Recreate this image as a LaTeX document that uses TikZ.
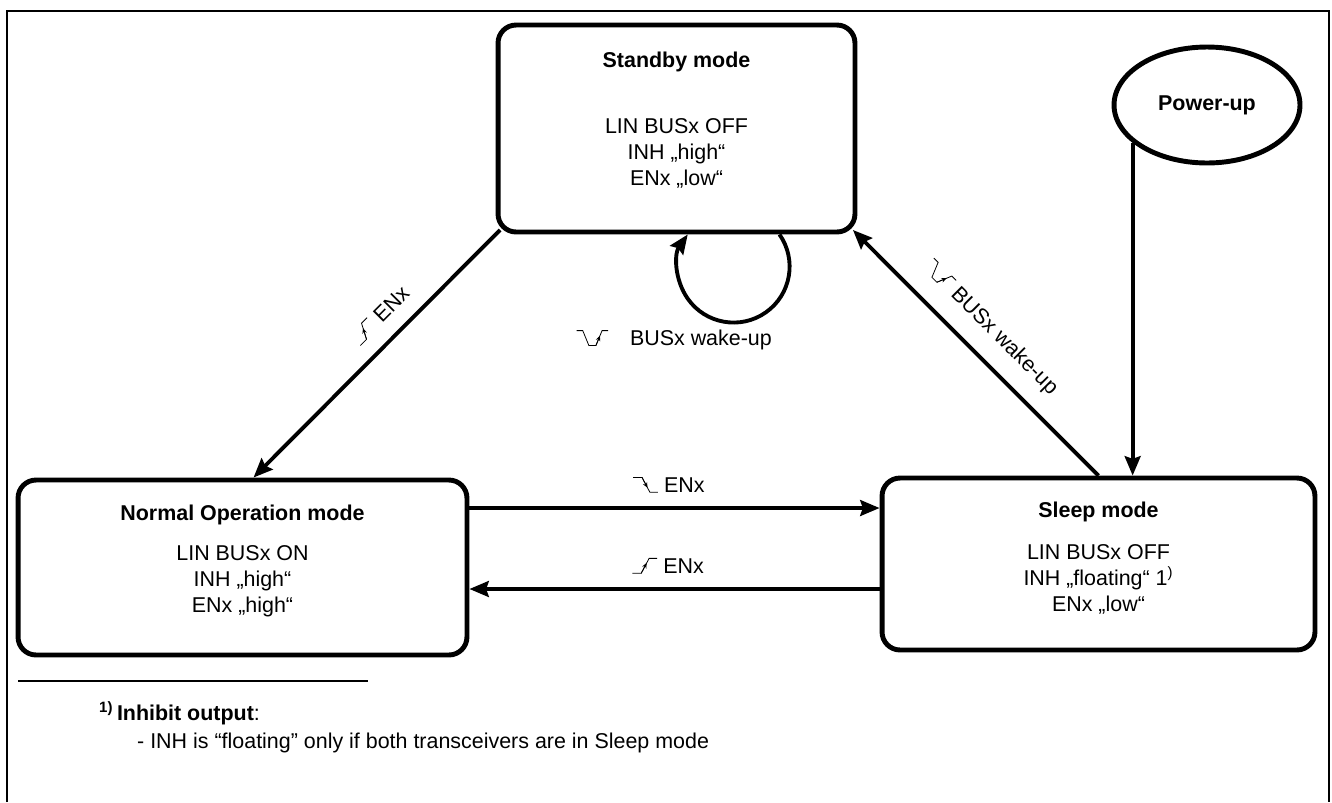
\documentclass[tikz,border=0pt]{standalone}
\usepackage{fontspec}
\setmainfont{Liberation Sans}
\usetikzlibrary{positioning,arrows.meta,shapes.geometric}
\tikzset{mode-box/.style={rectangle, rounded corners=0.36cm, line width=2.8pt, draw=black, fill=white},
title-text/.style={font=\fontsize{12.2}{14.8}\selectfont\bfseries, inner sep=0pt},
state-text/.style={align=center, font=\fontsize{12.2}{14.8}\selectfont, inner sep=0pt},
start-ellipse/.style={ellipse, line width=2.8pt, draw=black, fill=white, inner sep=0pt, font=\fontsize{12.2}{14.8}\selectfont\bfseries},
arrow/.style={line width=2.2pt, -{Stealth[length=11pt,width=9pt,inset=1.5pt]}},
edge-label/.style={font=\fontsize{12.2}{14.8}\selectfont, inner sep=8.5pt},
sig-tip/.style={-{Stealth[length=3pt,width=2.6pt]}}}
% small signal edges in the labels
\newcommand{\fallsig}{\tikz[baseline=0pt, x=1pt, y=1pt, line width=0.45pt]{\draw[-] (0,8.5)--(5,8.5)--(9.5,0)--(14,0); \draw[sig-tip] (5,8.5)--(8.1,2.6);}}
\newcommand{\risesig}{\tikz[baseline=0pt, x=1pt, y=1pt, line width=0.45pt]{\draw[-] (0,0)--(5,0)--(9.5,8.5)--(14,8.5); \draw[sig-tip] (5,0)--(8.1,5.9);}}
\newcommand{\wakesig}{\tikz[baseline=0pt, x=1pt, y=1pt, line width=0.45pt]{\draw[-] (0,8.5)--(3.5,8.5)--(7,0)--(11,0)--(14.5,8.5)--(18,8.5); \draw[sig-tip] (11,0)--(13.3,5.6);}}

\begin{document}
\begin{tikzpicture}[x=0.02cm, y=-0.02cm]
\useasboundingbox (0,0) rectangle (1332,802);
\draw [line width=1pt] (7,802) -- (7,11) -- (1329,11) -- (1329,802);

% the four states
\node (stby) [mode-box, minimum width=7.14cm, minimum height=4.14cm] at (676.5,128.5) {};
\node (stby-title) [title-text] at ([yshift=-0.78cm]stby.north) {Standby mode};
\node (stby-lines) [state-text] at ([yshift=1.62cm]stby.south) {LIN BUSx OFF\\
INH „high“\\
ENx „low“};
\node (norm) [mode-box, minimum width=8.98cm, minimum height=3.5cm] at (242.5,567.5) {};
\node (norm-title) [title-text] at ([yshift=-0.74cm]norm.north) {Normal Operation mode};
\node (norm-lines) [state-text] at ([yshift=1.52cm]norm.south) {LIN BUSx ON\\
INH „high“\\
ENx „high“};
\node (sleep) [mode-box, minimum width=8.66cm, minimum height=3.44cm] at (1098.5,564) {};
\node (sleep-title) [title-text] at ([yshift=-0.72cm]sleep.north) {Sleep mode};
\node (sleep-lines) [state-text] at ([yshift=1.46cm]sleep.south) {LIN BUSx OFF\\
INH „floating“ 1\textsuperscript{)}\\
ENx „low“};
\node (pwr) [start-ellipse, minimum width=3.72cm, minimum height=2.32cm] at (1207,105) {Power-up};

% transitions
\draw [arrow] ([shift={(0.09cm,0.09cm)}]stby.south west) -- node[edge-label, inner sep=9.5pt, sloped, above, pos=0.415] {\risesig\ ENx} ([xshift=0.22cm]norm.north);
\draw [arrow] (sleep.north) -- node[edge-label, inner sep=10pt, sloped, above, pos=0.52] {\wakesig\ BUSx wake-up} ([shift={(-0.09cm,0.09cm)}]stby.south east);
\draw [arrow] ([xshift=2.06cm]stby.south) arc[start angle=-35, end angle=215, radius=56];
\node (loop-label) [edge-label, inner sep=0pt] at (674,340) {\wakesig\quad BUSx wake-up};
\draw [arrow] (pwr.207) -- (pwr.207 |- sleep.north);
\draw [arrow] ([yshift=1.19cm]norm.east) -- node[edge-label, above, pos=0.486] {\fallsig\ ENx} ([yshift=1.19cm]norm.east -| sleep.west);
\draw [arrow] ([yshift=-0.5cm]sleep.west) -- node[edge-label, above, pos=0.516] {\risesig\ ENx} ([yshift=-0.5cm]sleep.west -| norm.east);

% footnote
\draw [line width=0.8pt] (18,681) -- (368,681);
\node (fn-head) [anchor=base west, font=\fontsize{12.2}{14.8}\selectfont] at (93,720) {\textsuperscript{\textbf{1)}}\,\textbf{Inhibit output}:};
\node (fn-text) [anchor=base west, font=\fontsize{12.2}{14.8}\selectfont] at (131,748) {- INH is “floating” only if both transceivers are in Sleep mode};
\end{tikzpicture}
\end{document}
